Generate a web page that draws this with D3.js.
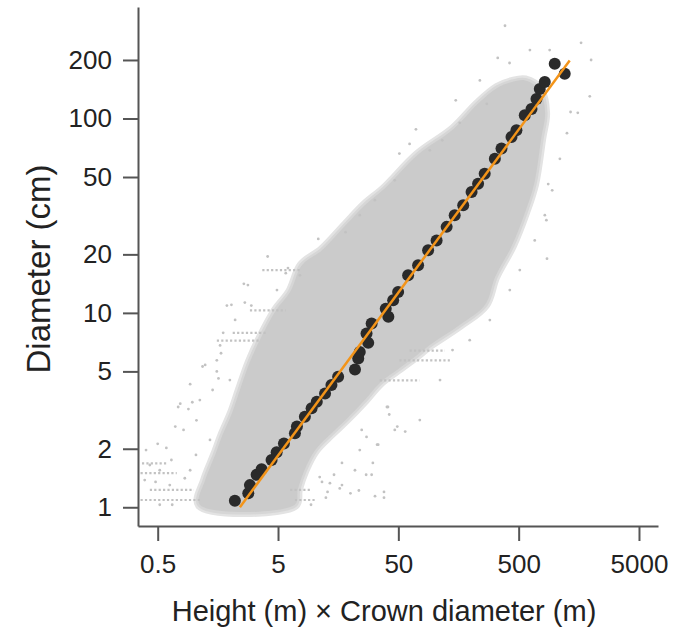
<!DOCTYPE html>
<html>
<head>
<meta charset="utf-8">
<script src="https://cdnjs.cloudflare.com/ajax/libs/d3/7.8.5/d3.min.js"></script>
<style>
  body { margin: 0; background: #fff; }
  svg text { font-family: "Liberation Sans", Arial, sans-serif; fill: #222; }
</style>
</head>
<body>
<svg id="chart" width="682" height="630"></svg>
<script>
// axis ticks
const xTicks = [0.5, 5, 50, 500, 5000];
const yTicks = [1, 2, 5, 10, 20, 50, 100, 200];

// binned means (black dots), height*crown vs diameter
const binX = [2.19, 2.83, 2.92, 3.32, 3.65, 4.42, 4.87, 5.60, 6.91, 7.18, 8.36, 9.51, 10.5, 12.3, 13.9, 15.8,
  21.8, 23.2, 23.9, 27.2, 28.1, 30.0, 39.3, 41.3, 45.3, 49.8, 60.3, 73.0, 88.4, 104, 126, 147, 173, 203,
  230, 261, 317, 360, 436, 479, 562, 639, 703, 749, 824, 997, 1207];
const binY = [1.08, 1.18, 1.30, 1.47, 1.57, 1.75, 1.92, 2.13, 2.40, 2.60, 2.92, 3.23, 3.49, 3.85, 4.25, 4.69,
  5.12, 5.83, 6.30, 7.84, 7.01, 8.82, 10.5, 9.54, 11.6, 12.8, 15.6, 17.6, 21.0, 23.6, 27.7, 31.8, 35.8, 41.9,
  46.2, 52.0, 62.1, 70.0, 80.3, 86.9, 104, 112, 126, 142, 154, 191, 170];

// fitted line ends
const fitX = [2.41, 1328];
const fitY = [1.0, 199];

// outline of the dense grey cloud (left edge upward, then right edge downward)
const cloudX = [1.12, 1.24, 1.50, 1.73, 2.07, 2.41, 2.92, 3.7, 4.8, 6.3, 7.9, 11.6, 18.2, 26.3, 38.5, 72.5,
  143, 229, 333, 440, 567, 748, 829, 770, 672, 567, 440, 319, 263, 162, 91.3, 67, 51.4, 35.1, 26.3, 18.2,
  14.0, 10.2, 8.3, 7.3, 6.9];
const cloudY = [1.03, 1.38, 1.86, 2.36, 3.05, 4.01, 5.6, 7.7, 10.3, 12.8, 17.6, 21.0, 28.2, 35.8, 43.6, 65,
  88, 119, 144, 154, 157, 140, 107, 79, 46, 33, 22.2, 15.3, 11.0, 8.66, 6.83, 5.87, 5.2, 4.36, 3.56, 2.81,
  2.41, 1.97, 1.55, 1.23, 1.03];

// scattered single trees outside the cloud
const outX = [0.40, 0.50, 0.77, 0.90, 1.12, 1.18, 1.55, 1.55, 1.75, 1.68, 2.05, 2.6, 2.65, 1.6, 1.05, 0.93,
  0.70, 0.48, 5.8, 7.6, 4.1, 10.8, 3.0, 2.2, 385, 1650, 2000, 1950, 905, 620, 335, 420, 238, 150, 70, 62,
  51, 1350, 1550, 1260, 1100, 880, 850, 860, 42, 57, 49, 41, 27, 32, 38, 14.6, 11.6, 17, 20, 23.5, 30,
  12.5, 9.4, 34,
  2.81, 1.88, 1.65, 1.24, 0.74, 0.97, 0.59, 6.05, 4.9, 1.43, 1.99, 0.82, 0.65, 0.52, 1.36, 18.2, 23.9,
  31.9, 46.7, 91.3, 116, 162, 272,
  24.8, 33.3, 38, 46.7, 17, 12.9, 21.8, 40.2, 27.2, 23.9, 30.7, 11.1, 13.5, 16.3, 75.4, 111, 141, 196,
  288, 422, 511, 680, 825, 950,
  0.39, 0.43, 0.63, 0.84, 0.52, 0.66, 0.93, 1.04];
const outY = [1.97, 2.12, 3.41, 3.2, 3.56, 5.3, 5.0, 5.7, 7.9, 6.2, 11.0, 14.1, 11.3, 4.6, 2.8, 4.3,
  2.6, 1.35, 16.0, 15.6, 19.5, 24, 10.9, 9.2, 300, 245, 200, 130, 225, 225, 205, 193, 157, 124, 88, 74,
  66, 108, 107, 84, 62, 46, 30, 19, 3.0, 2.45, 2.6, 3.28, 1.47, 1.14, 1.12, 1.47, 1.35, 1.30, 1.18,
  1.22, 1.47, 1.12, 1.03, 2.1,
  13.9, 10.9, 6.8, 5.4, 3.28, 3.47, 2.02, 17.0, 13.1, 4.01, 4.51, 2.5, 1.75, 1.55, 2.22, 26.0, 31.8,
  38.0, 48.1, 68.6, 77.2, 95, 119,
  2.5, 2.1, 1.2, 2.5, 1.69, 1.2, 1.55, 3.28, 2.3, 1.97, 1.69, 1.43, 1.33, 1.25, 2.81, 4.51, 6.44, 7.24,
  9.18, 13.1, 16.6, 23.6, 31.8, 42.7,
  1.38, 1.65, 1.30, 1.41, 1.03, 1.03, 1.55, 1.86];

// horizontal rows of trees at rounded diameters: level, from, to
const streakD = [1.09, 1.23, 1.50, 1.68, 7.2, 7.9, 10.3, 16.6, 5.7, 6.4, 4.5, 1.09, 1.23];
const streakX0 = [0.36, 0.43, 0.36, 0.37, 1.55, 2.1, 2.92, 3.7, 51, 62, 35, 6.9, 6.3];
const streakX1 = [1.12, 1.0, 0.72, 0.60, 3.5, 4.1, 5.8, 7.6, 134, 122, 75, 10.2, 9.2];

let svg = d3.select("#chart");

let x = d3.scaleLog().domain([0.343, 7194]).range([138, 658]);
let y = d3.scaleLog().domain([0.801, 374.6]).range([526, 7]);

drawCloud();
drawFit();
drawAxes();

function drawCloud(){
    let cloud = cloudX.map((v, i) => [v, cloudY[i]]);
    let line = d3.line().x(d => x(d[0])).y(d => y(d[1])).curve(d3.curveCatmullRomClosed.alpha(0.5));

    // soft pale halo so the edge fades out like thinning points
    svg.append("path")
        .attr("d", line(cloud))
        .attr("fill", "none")
        .attr("stroke", "#e3e3e3")
        .attr("stroke-width", 10)
        .attr("stroke-linejoin", "round");
    svg.append("path")
        .attr("d", line(cloud))
        .attr("fill", "none")
        .attr("stroke", "#d6d6d6")
        .attr("stroke-width", 5)
        .attr("stroke-linejoin", "round");
    svg.append("path")
        .attr("d", line(cloud))
        .attr("fill", "#cbcbcb");

    let streaks = streakD.map((d, i) => ({d: d, x0: streakX0[i], x1: streakX1[i]}));
    svg.selectAll("line.streak")
        .data(streaks)
        .enter().append("line")
        .attr("class", "streak")
        .attr("x1", d => x(d.x0)).attr("x2", d => x(d.x1))
        .attr("y1", d => y(d.d)).attr("y2", d => y(d.d))
        .attr("stroke", "#c2c2c2")
        .attr("stroke-width", 2.2)
        .attr("stroke-dasharray", "2.2,2.2");

    svg.selectAll("circle.out")
        .data(outX.map((v, i) => [v, outY[i]]))
        .enter().append("circle")
        .attr("class", "out")
        .attr("cx", d => x(d[0]))
        .attr("cy", d => y(d[1]))
        .attr("r", 1.4)
        .attr("fill", "#c2c2c2");
}

function drawFit(){
    svg.selectAll("circle.bin")
        .data(binX.map((v, i) => [v, binY[i]]))
        .enter().append("circle")
        .attr("class", "bin")
        .attr("cx", d => x(d[0]))
        .attr("cy", d => y(d[1]))
        .attr("r", 6)
        .attr("fill", "#2a2a2a");

    svg.append("line")
        .attr("x1", x(fitX[0])).attr("y1", y(fitY[0]))
        .attr("x2", x(fitX[1])).attr("y2", y(fitY[1]))
        .attr("stroke", "#f39419")
        .attr("stroke-width", 2.5);
}

function drawAxes(){
    let fmt = d3.format("~g");

    let gx = svg.append("g")
        .attr("transform", "translate(0,526)")
        .call(d3.axisBottom(x).tickValues(xTicks).tickFormat(fmt)
            .tickSize(15).tickSizeOuter(0).tickPadding(14));

    let gy = svg.append("g")
        .attr("transform", "translate(138,0)")
        .call(d3.axisLeft(y).tickValues(yTicks).tickFormat(fmt)
            .tickSize(15).tickSizeOuter(0).tickPadding(11));

    for (let g of [gx, gy]){
        g.select(".domain").attr("stroke", "#555").attr("stroke-width", 2);
        g.selectAll(".tick line").attr("stroke", "#555").attr("stroke-width", 2);
        g.selectAll(".tick text").attr("font-size", 26).attr("fill", "#222")
            .style("font-family", "'Liberation Sans', Arial, sans-serif");
    }

    svg.append("text")
        .attr("x", 384)
        .attr("y", 621)
        .attr("text-anchor", "middle")
        .attr("font-size", 29)
        .text("Height (m) \u00d7 Crown diameter (m)");

    svg.append("text")
        .attr("transform", "translate(50,269) rotate(-90)")
        .attr("text-anchor", "middle")
        .attr("font-size", 33)
        .text("Diameter (cm)");
}
</script>
</body>
</html>
